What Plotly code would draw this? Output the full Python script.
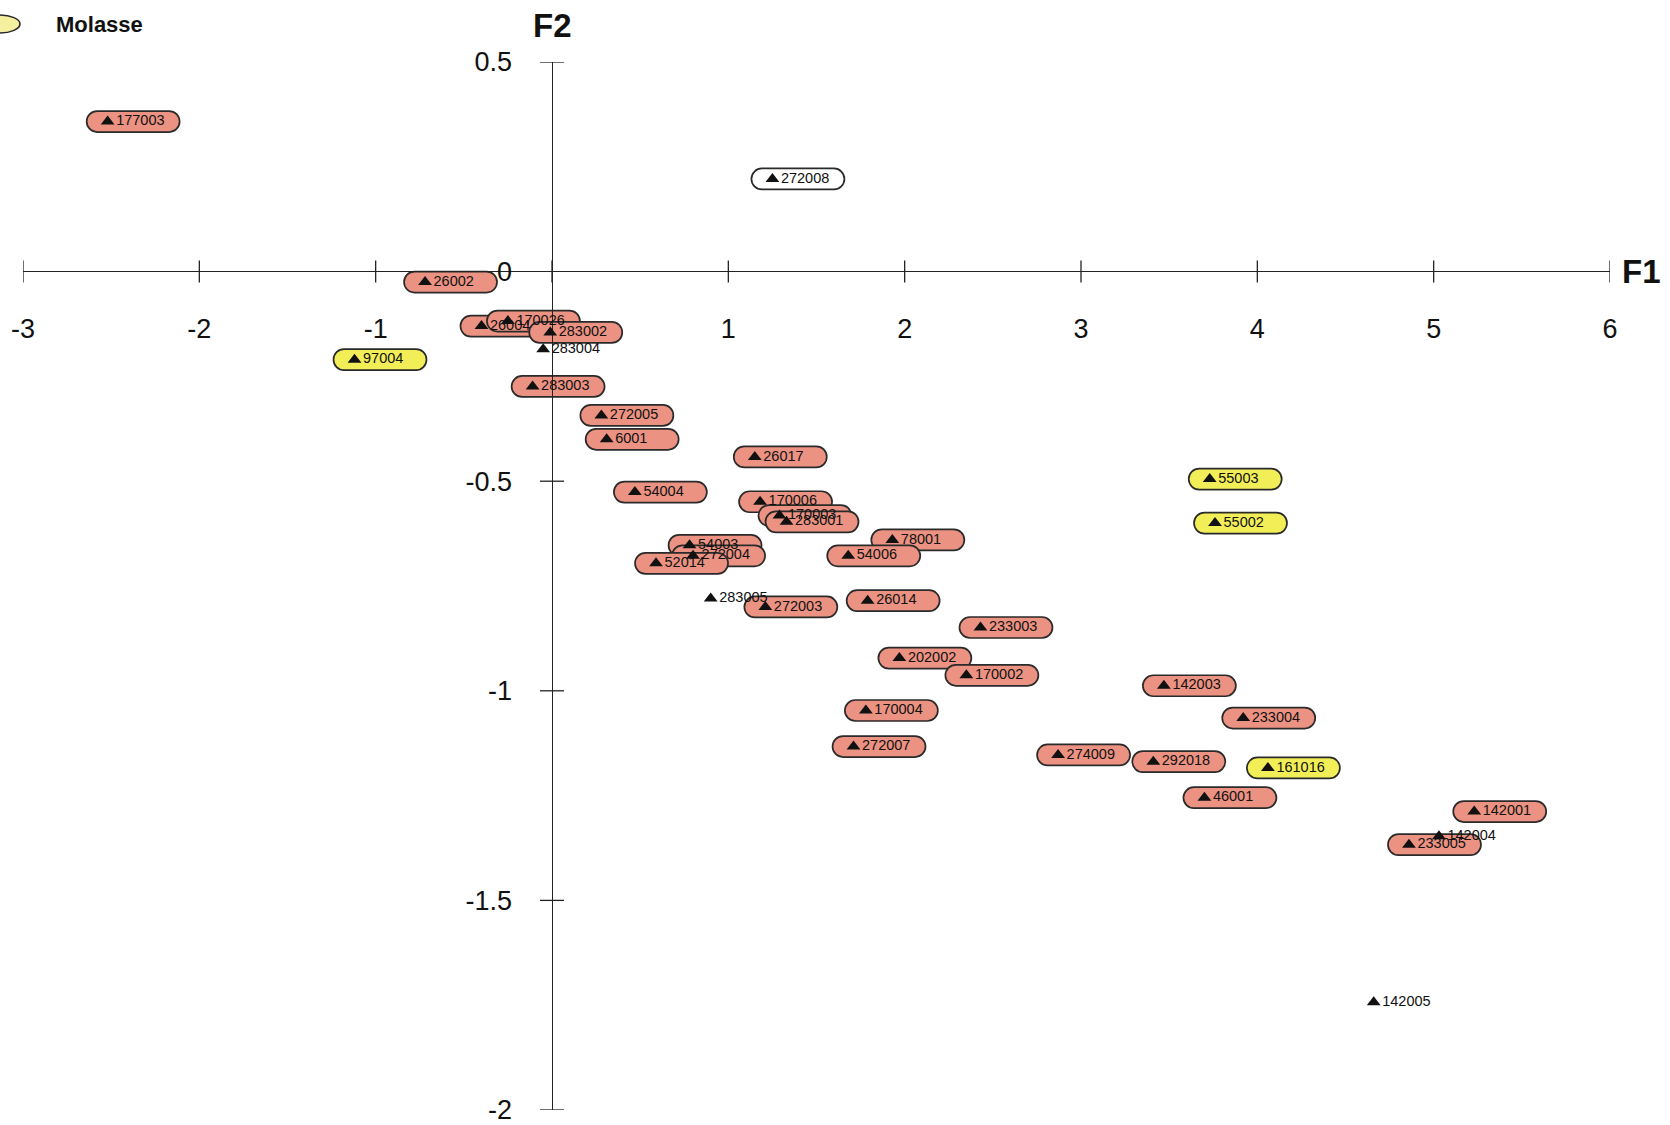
import plotly.graph_objects as go

# ---- data ----
labels = ["177003", "272008", "26002", "26004", "170026", "283002", "283004", "97004",
          "283003", "272005", "6001", "26017", "54004", "170006", "170003", "283001",
          "78001", "54006", "54003", "272004", "52014", "283005", "272003", "26014",
          "233003", "202002", "170002", "142003", "170004", "233004", "272007", "274009",
          "292018", "161016", "46001", "142001", "142004", "233005", "142005",
          "55003", "55002"]
f1 = [-2.52, 1.25, -0.72, -0.40, -0.25, -0.01, -0.05, -1.12,
      -0.11, 0.28, 0.31, 1.15, 0.47, 1.18, 1.29, 1.33,
      1.93, 1.68, 0.78, 0.80, 0.59, 0.90, 1.21, 1.79,
      2.43, 1.97, 2.35, 3.47, 1.78, 3.92, 1.71, 2.87,
      3.41, 4.06, 3.70, 5.23, 5.03, 4.86, 4.66,
      3.73, 3.76]
f2 = [0.358, 0.221, -0.025, -0.130, -0.118, -0.145, -0.185, -0.210,
      -0.274, -0.343, -0.400, -0.442, -0.526, -0.549, -0.582, -0.597,
      -0.640, -0.678, -0.653, -0.678, -0.696, -0.780, -0.800, -0.785,
      -0.849, -0.922, -0.963, -0.988, -1.047, -1.065, -1.133, -1.153,
      -1.169, -1.184, -1.255, -1.288, -1.347, -1.367, -1.743,
      -0.495, -0.600]
groups = ["red", "white", "red", "red", "red", "red", "none", "yellow",
          "red", "red", "red", "red", "red", "red", "red", "red",
          "red", "red", "red", "red", "red", "none", "red", "red",
          "red", "red", "red", "red", "red", "red", "red", "red",
          "red", "yellow", "red", "red", "none", "red", "none",
          "yellow", "yellow"]

x_ticks = [-3, -2, -1, 1, 2, 3, 4, 5, 6]
y_ticks = [0.5, 0, -0.5, -1, -1.5, -2]
x_tick_marks = [-3, -2, -1, 0, 1, 2, 3, 4, 5, 6]
y_tick_marks = [0.5, -0.5, -1, -1.5, -2]
legend_label = "Molasse"

# ---- styling ----
fills = {"red": "#ec9282", "yellow": "#f2ee58", "white": "#ffffff"}
BORDER = "#2a2a2a"
FONT = "Liberation Sans, Arial, sans-serif"


def pill_path(x0, x1, h):
    r = h / 2.0
    k = 0.5523 * r
    return (f"M {x0 + r},{-r} L {x1 - r},{-r} "
            f"C {x1 - r + k},{-r} {x1},{-k} {x1},0 "
            f"C {x1},{k} {x1 - r + k},{r} {x1 - r},{r} "
            f"L {x0 + r},{r} "
            f"C {x0 + r - k},{r} {x0},{k} {x0},0 "
            f"C {x0},{-k} {x0 + r - k},{-r} {x0 + r},{-r} Z")


shapes = []
for lab, x, y, g in zip(labels, f1, f2, groups):
    if g == "none":
        continue
    shapes.append(dict(
        type="path", xref="x", yref="y", xsizemode="pixel", ysizemode="pixel",
        xanchor=x, yanchor=y, path=pill_path(-21, 72, 21),
        fillcolor=fills[g], line=dict(color=BORDER, width=1.7), layer="below"))

# tick marks crossing the axes
for t in x_tick_marks:
    shapes.append(dict(type="line", xref="x", yref="y", ysizemode="pixel", yanchor=0,
                       x0=t, x1=t, y0=-11, y1=11, line=dict(color="#222", width=1.3)))
for t in y_tick_marks:
    shapes.append(dict(type="line", xref="x", yref="y", xsizemode="pixel", xanchor=0,
                       y0=t, y1=t, x0=-12, x1=12, line=dict(color="#222", width=1.3)))

# legend ellipse (partially cut at the left edge)
shapes.append(dict(type="circle", xref="paper", yref="paper", xsizemode="pixel",
                   ysizemode="pixel", xanchor=0, yanchor=1, x0=-44, x1=-3, y0=29, y1=47,
                   fillcolor="#f4f0a0", line=dict(color=BORDER, width=1.6)))

fig = go.Figure()
fig.add_trace(go.Scatter(
    x=f1, y=f2, mode="markers+text", text=labels, textposition="middle right",
    marker=dict(symbol="triangle-up", size=12, color="#111"),
    textfont=dict(family=FONT, size=14.5, color="#111"),
    cliponaxis=False, showlegend=False, hoverinfo="text"))

annotations = [
    dict(text="<b>F2</b>", x=0, y=1, xref="x", yref="paper", yshift=37, showarrow=False,
         font=dict(family=FONT, size=33, color="#111"), xanchor="center", yanchor="middle"),
    dict(text="<b>F1</b>", x=1, y=0, xref="paper", yref="y", xshift=31, showarrow=False,
         font=dict(family=FONT, size=33, color="#111"), xanchor="center", yanchor="middle"),
    dict(text=f"<b>{legend_label}</b>", x=0, y=1, xref="paper", yref="paper", xshift=31,
         yshift=38, showarrow=False, font=dict(family=FONT, size=22, color="#111"),
         xanchor="left", yanchor="middle"),
]

fig.update_layout(
    width=1670, height=1125, plot_bgcolor="white", paper_bgcolor="white",
    margin=dict(l=23, r=60, t=62, b=15, autoexpand=False),
    shapes=shapes, annotations=annotations, showlegend=False,
    xaxis=dict(range=[-3, 6], showgrid=False, zeroline=True, zerolinecolor="#222",
               zerolinewidth=1.3, showline=False, ticks="", anchor="free", position=0.8,
               automargin=False, ticklabeloverflow="allow",
               tickvals=x_ticks, ticktext=[str(v) for v in x_ticks],
               ticklabelstandoff=38, tickfont=dict(family=FONT, size=27, color="#111")),
    yaxis=dict(range=[-2, 0.5], showgrid=False, zeroline=True, zerolinecolor="#222",
               zerolinewidth=1.3, showline=False, ticks="", anchor="free",
               position=1 / 3, automargin=False, ticklabeloverflow="allow",
               tickvals=y_ticks, ticktext=[("%g" % v) for v in y_ticks],
               ticklabelstandoff=40, tickfont=dict(family=FONT, size=27, color="#111")),
)

# remove the browser's default page margin so the figure fills the window exactly
fig.write_html("out.html", config={"displayModeBar": False}, post_script=(
    "document.body.style.margin='0px';"
    "document.documentElement.style.overflow='hidden';"))
